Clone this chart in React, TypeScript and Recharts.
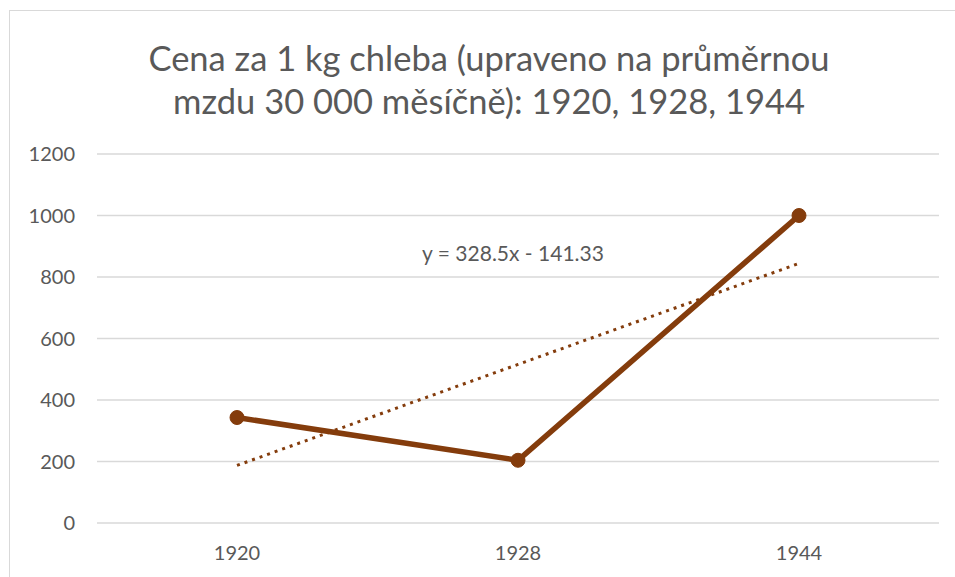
import { CartesianGrid, Line, LineChart, XAxis, YAxis } from "recharts";

const years = ["1920", "1928", "1944"];
const price = [343, 204, 1000];
const trend = [187.17, 515.67, 844.17];
const yTicks = [0, 200, 400, 600, 800, 1000, 1200];

const data = years.map((year, i) => ({ year, price: price[i], trend: trend[i] }));

const FONT = "Lato, 'Open Sans', sans-serif";
const TEXT = "#595959";
const BROWN = "#843C0C";

export default function App() {
  return (
    <div style={{ position: "fixed", left: 0, top: 0, width: 955, height: 577, background: "#fff", overflow: "hidden", fontFamily: FONT }}>
      <div style={{ position: "absolute", left: 9, top: 10, width: 960, height: 600, border: "1px solid #d9d9d9" }} />
      <div
        style={{
          position: "absolute",
          left: 39,
          width: 900,
          top: 36,
          textAlign: "center",
          fontSize: 34.5,
          lineHeight: "43px",
          color: TEXT,
        }}
      >
        Cena za 1 kg chleba (upraveno na průměrnou
        <br />
        mzdu 30 000 měsíčně): 1920, 1928, 1944
      </div>
      <LineChart
        width={955}
        height={577}
        data={data}
        margin={{ top: 154, right: 16, bottom: 0, left: 37 }}
        style={{ position: "absolute", left: 0, top: 0 }}
      >
        <CartesianGrid vertical={false} stroke="#d9d9d9" strokeWidth={1.5} />
        <XAxis
          dataKey="year"
          axisLine={false}
          tickLine={false}
          height={54}
          tickMargin={17}
          padding={{ left: 140, right: 140 }}
          tick={{ fill: TEXT, fontSize: 20, fontFamily: FONT }}
        />
        <YAxis
          domain={[0, 1200]}
          ticks={yTicks}
          width={60}
          axisLine={false}
          tickLine={false}
          tickMargin={16}
          tick={{ fill: TEXT, fontSize: 20, fontFamily: FONT }}
        />
        <Line
          dataKey="trend"
          stroke={BROWN}
          strokeWidth={3}
          strokeDasharray="3 5"
          dot={false}
          activeDot={false}
          isAnimationActive={false}
        />
        <Line
          dataKey="price"
          stroke={BROWN}
          strokeWidth={5.5}
          dot={{ r: 7, fill: BROWN, stroke: BROWN, strokeWidth: 1 }}
          activeDot={false}
          isAnimationActive={false}
        />
      </LineChart>
      <div style={{ position: "absolute", left: 363, top: 240, width: 300, textAlign: "center", fontSize: 21, lineHeight: "26px", color: TEXT }}>
        y = 328.5x - 141.33
      </div>
    </div>
  );
}
